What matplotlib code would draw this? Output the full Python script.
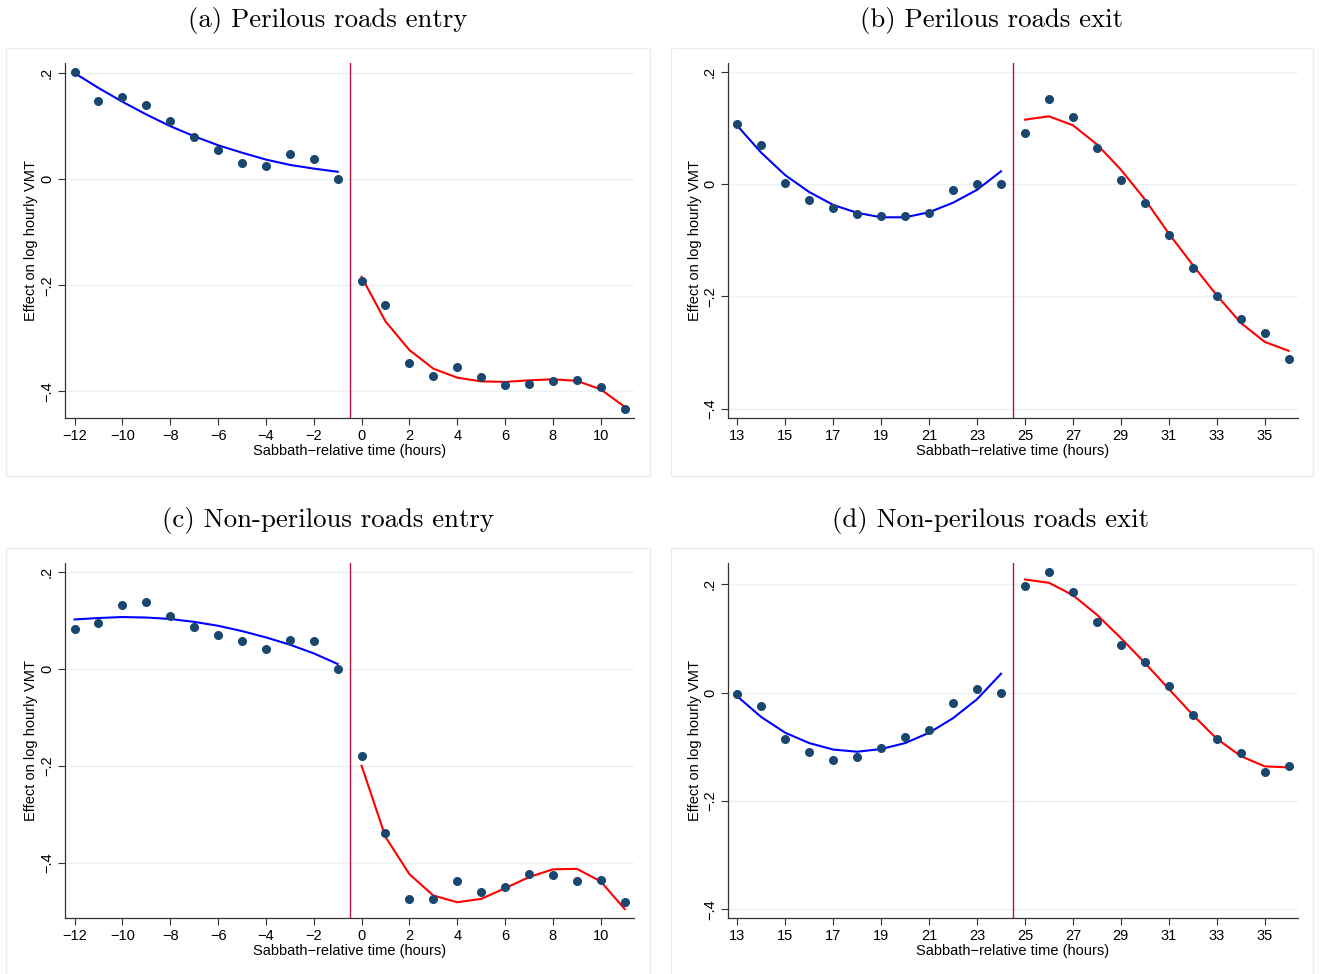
import numpy as np
import matplotlib
matplotlib.use("Agg")
import matplotlib.pyplot as plt
from matplotlib.patches import Rectangle

plt.rcParams['font.family'] = ['Liberation Sans', 'DejaVu Sans']

# hours relative to Sabbath
hrs_entry_pre = [-12, -11, -10, -9, -8, -7, -6, -5, -4, -3, -2, -1]
hrs_entry_post = [0, 1, 2, 3, 4, 5, 6, 7, 8, 9, 10, 11]
hrs_exit_pre = [13, 14, 15, 16, 17, 18, 19, 20, 21, 22, 23, 24]
hrs_exit_post = [25, 26, 27, 28, 29, 30, 31, 32, 33, 34, 35, 36]

# (a) perilous roads entry
a_pts_pre = [0.202, 0.147, 0.155, 0.139, 0.110, 0.080, 0.055, 0.031, 0.025, 0.047, 0.038, 0.0]
a_pts_post = [-0.191, -0.237, -0.346, -0.371, -0.353, -0.373, -0.387, -0.385, -0.380, -0.379, -0.391, -0.433]
a_fit_pre = [0.200, 0.172, 0.146, 0.122, 0.100, 0.081, 0.064, 0.050, 0.037, 0.027, 0.020, 0.014]
a_fit_post = [-0.184, -0.268, -0.322, -0.357, -0.374, -0.381, -0.382, -0.379, -0.377, -0.380, -0.396, -0.429]

# (b) perilous roads exit
b_pts_pre = [0.108, 0.070, 0.003, -0.029, -0.042, -0.053, -0.056, -0.056, -0.051, -0.011, 0.0, 0.0]
b_pts_post = [0.092, 0.152, 0.120, 0.064, 0.008, -0.033, -0.090, -0.149, -0.199, -0.241, -0.266, -0.311]
b_fit_pre = [0.104, 0.056, 0.016, -0.014, -0.037, -0.051, -0.059, -0.059, -0.050, -0.033, -0.010, 0.023]
b_fit_post = [0.115, 0.121, 0.105, 0.071, 0.026, -0.027, -0.088, -0.144, -0.198, -0.247, -0.281, -0.297]

# (c) non-perilous roads entry
c_pts_pre = [0.083, 0.094, 0.132, 0.138, 0.109, 0.087, 0.070, 0.057, 0.042, 0.059, 0.058, 0.0]
c_pts_post = [-0.179, -0.340, -0.476, -0.476, -0.439, -0.461, -0.451, -0.424, -0.426, -0.438, -0.437, -0.482]
c_fit_pre = [0.102, 0.105, 0.107, 0.106, 0.103, 0.097, 0.089, 0.078, 0.065, 0.050, 0.032, 0.010]
c_fit_post = [-0.200, -0.347, -0.424, -0.468, -0.482, -0.475, -0.453, -0.430, -0.414, -0.413, -0.439, -0.496]

# (d) non-perilous roads exit
d_pts_pre = [-0.002, -0.025, -0.085, -0.109, -0.124, -0.119, -0.102, -0.082, -0.069, -0.019, 0.007, 0.0]
d_pts_post = [0.197, 0.223, 0.186, 0.130, 0.088, 0.057, 0.012, -0.041, -0.086, -0.112, -0.146, -0.135]
d_fit_pre = [-0.007, -0.045, -0.074, -0.093, -0.105, -0.109, -0.104, -0.093, -0.074, -0.047, -0.012, 0.035]
d_fit_post = [0.209, 0.203, 0.180, 0.144, 0.101, 0.055, 0.007, -0.041, -0.085, -0.117, -0.136, -0.138]

titles = ["(a) Perilous roads entry", "(b) Perilous roads exit",
          "(c) Non-perilous roads entry", "(d) Non-perilous roads exit"]
entry_ticks = [-12, -10, -8, -6, -4, -2, 0, 2, 4, 6, 8, 10]
exit_ticks = [13, 15, 17, 19, 21, 23, 25, 27, 29, 31, 33, 35]
y_ticks = [-0.4, -0.2, 0.0, 0.2]
y_ticklabels = ["\u2212.4", "\u2212.2", "0", ".2"]

W, H = 1320, 974
fig = plt.figure(figsize=(W / 100, H / 100), dpi=100)

def px_axes(l, t, r, b):
    return fig.add_axes([l / W, 1 - b / H, (r - l) / W, (b - t) / H])

def panel(rect, box, title, title_xy, x_pre, x_post, pts_pre, pts_post,
          fit_pre, fit_post, cut, xticks, xlim, ylim):
    # light frame round each sub-graph
    bl, bt, br, bb = box
    fig.patches.append(Rectangle((bl / W, 1 - bb / H), (br - bl) / W, (bb - bt) / H,
                                 transform=fig.transFigure, fill=False,
                                 edgecolor='#e6eef0', linewidth=1.0, zorder=0))
    fig.text(title_xy[0] / W, 1 - title_xy[1] / H, title, fontfamily='cmr10',
             fontsize=19.3, ha='center', va='center')
    ax = px_axes(*rect)
    for yt in y_ticks:
        ax.axhline(yt, color='#eaf2f3', linewidth=1.0, zorder=0)
    ax.axvline(cut, color='#b8163e', linewidth=1.0, zorder=1)
    ax.plot(x_pre, fit_pre, color='#0000ff', linewidth=1.5, zorder=2)
    ax.plot(x_post, fit_post, color='#ff0000', linewidth=1.5, zorder=2)
    ax.plot(x_pre + x_post, pts_pre + pts_post, 'o', color='#1a476f',
            markersize=5.5, zorder=3)
    ax.set_xlim(*xlim)
    ax.set_ylim(*ylim)
    ax.set_xticks(xticks)
    ax.set_xticklabels([str(v).replace('-', '\u2212') for v in xticks])
    ax.set_yticks(y_ticks)
    ax.set_yticklabels(y_ticklabels, rotation=90, va='center')
    ax.tick_params(labelsize=10.5, length=5, width=0.8, color='#333333', pad=3)
    ax.set_xlabel("Sabbath\u2212relative time (hours)", fontsize=10.5, labelpad=1)
    ax.set_ylabel("Effect on log hourly VMT", fontsize=10.5, labelpad=1)
    for s in ['top', 'right']:
        ax.spines[s].set_visible(False)
    for s in ['left', 'bottom']:
        ax.spines[s].set_linewidth(0.9)
        ax.spines[s].set_color('#333333')
    return ax

panel((65, 63, 634, 418), (6.5, 47.5, 649.5, 476), titles[0], (328, 20),
      hrs_entry_pre, hrs_entry_post, a_pts_pre, a_pts_post, a_fit_pre, a_fit_post,
      -0.5, entry_ticks, (-12.4, 11.39), (-0.45, 0.219))
panel((728, 63, 1298, 418), (670.5, 47.5, 1312.5, 476), titles[1], (991, 20),
      hrs_exit_pre, hrs_exit_post, b_pts_pre, b_pts_post, b_fit_pre, b_fit_post,
      24.5, exit_ticks, (12.61, 36.39), (-0.4167, 0.216))
panel((65, 563, 634, 918), (6.5, 548, 649.5, 990), titles[2], (328, 520),
      hrs_entry_pre, hrs_entry_post, c_pts_pre, c_pts_post, c_fit_pre, c_fit_post,
      -0.5, entry_ticks, (-12.4, 11.39), (-0.5145, 0.2186))
panel((728, 563, 1298, 918), (670.5, 548, 1312.5, 990), titles[3], (991, 520),
      hrs_exit_pre, hrs_exit_post, d_pts_pre, d_pts_post, d_fit_pre, d_fit_post,
      24.5, exit_ticks, (12.61, 36.39), (-0.416, 0.2395))

fig.savefig("out.png", dpi=100, facecolor='white')
